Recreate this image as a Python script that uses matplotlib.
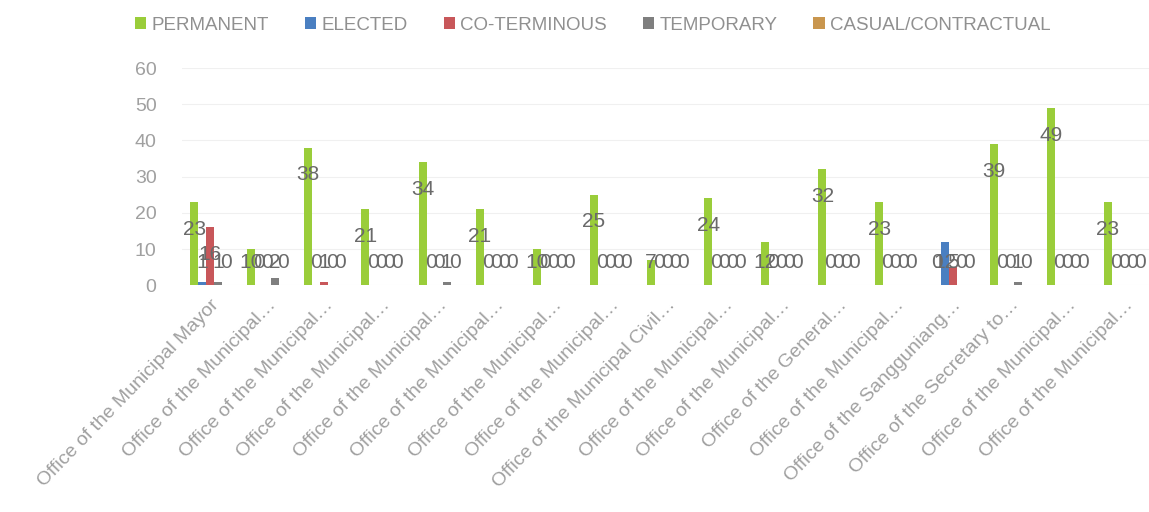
#!/usr/bin/env python3
"""Employment status per office, grouped bars with Excel-style labels."""

import matplotlib

matplotlib.use("Agg")
import matplotlib.pyplot as plt
import numpy as np


OFFICES = [
    "Office of the Municipal Mayor",
    "Office of the Municipal\u2026",
    "Office of the Municipal\u2026",
    "Office of the Municipal\u2026",
    "Office of the Municipal\u2026",
    "Office of the Municipal\u2026",
    "Office of the Municipal\u2026",
    "Office of the Municipal\u2026",
    "Office of the Municipal Civil\u2026",
    "Office of the Municipal\u2026",
    "Office of the Municipal\u2026",
    "Office of the General\u2026",
    "Office of the Municipal\u2026",
    "Office of the Sangguniang\u2026",
    "Office of the Secretary to\u2026",
    "Office of the Municipal\u2026",
    "Office of the Municipal\u2026",
]

PERMANENT = [23, 10, 38, 21, 34, 21, 10, 25, 7, 24, 12, 32, 23, 0, 39, 49, 23]
ELECTED = [1, 0, 0, 0, 0, 0, 0, 0, 0, 0, 0, 0, 0, 12, 0, 0, 0]
CO_TERMINOUS = [16, 0, 1, 0, 0, 0, 0, 0, 0, 0, 0, 0, 0, 5, 0, 0, 0]
TEMPORARY = [1, 2, 0, 0, 1, 0, 0, 0, 0, 0, 0, 0, 0, 0, 1, 0, 0]
CASUAL = [0, 0, 0, 0, 0, 0, 0, 0, 0, 0, 0, 0, 0, 0, 0, 0, 0]

SERIES = [
    ("PERMANENT", PERMANENT, "#9acd3a"),
    ("ELECTED", ELECTED, "#4a7fc1"),
    ("CO-TERMINOUS", CO_TERMINOUS, "#c8575a"),
    ("TEMPORARY", TEMPORARY, "#7f7f7f"),
    ("CASUAL/CONTRACTUAL", CASUAL, "#c9964e"),
]


def main() -> None:
    plt.rcParams["font.family"] = ["Liberation Sans", "DejaVu Sans"]
    fig = plt.figure(figsize=(11.49, 5.12), dpi=100)
    ax = fig.add_axes([0.158, 0.443, 0.845, 0.424])

    x = np.arange(len(OFFICES))
    width = 0.14
    for i, (name, values, color) in enumerate(SERIES):
        pos = x + (i - 2) * width
        ax.bar(pos, values, width=width, color=color, label=name)
        for xp, v in zip(pos, values):
            # labels sit inside the bar top, clamped near the baseline
            ax.text(xp, max(v - 7.5, 6.4), str(v), ha="center", va="center",
                    fontsize=15, color="#6a6a6a")

    ax.set_xlim(-0.5, len(OFFICES) - 0.5)
    ax.set_ylim(0, 60)
    ax.set_yticks(range(0, 61, 10))
    ax.yaxis.grid(True, color="#f0f0f0", linewidth=0.8)
    ax.set_axisbelow(True)
    for spine in ax.spines.values():
        spine.set_visible(False)
    ax.tick_params(axis="both", length=0, colors="#a0a0a0", labelsize=14)
    ax.tick_params(axis="y", pad=18)
    ax.tick_params(axis="x", pad=8)
    ax.set_xticks(x)
    ax.set_xticklabels(OFFICES, rotation=46, ha="right", rotation_mode="anchor",
                       fontsize=14, color="#a0a0a0")

    fig.legend(loc="upper center", bbox_to_anchor=(0.516, 1.0), ncol=5, frameon=False,
               fontsize=13.5, handlelength=0.6, handleheight=0.6, handletextpad=0.3,
               columnspacing=1.9, labelcolor="#909090")

    fig.savefig("out.png", dpi=100)


if __name__ == "__main__":
    main()
